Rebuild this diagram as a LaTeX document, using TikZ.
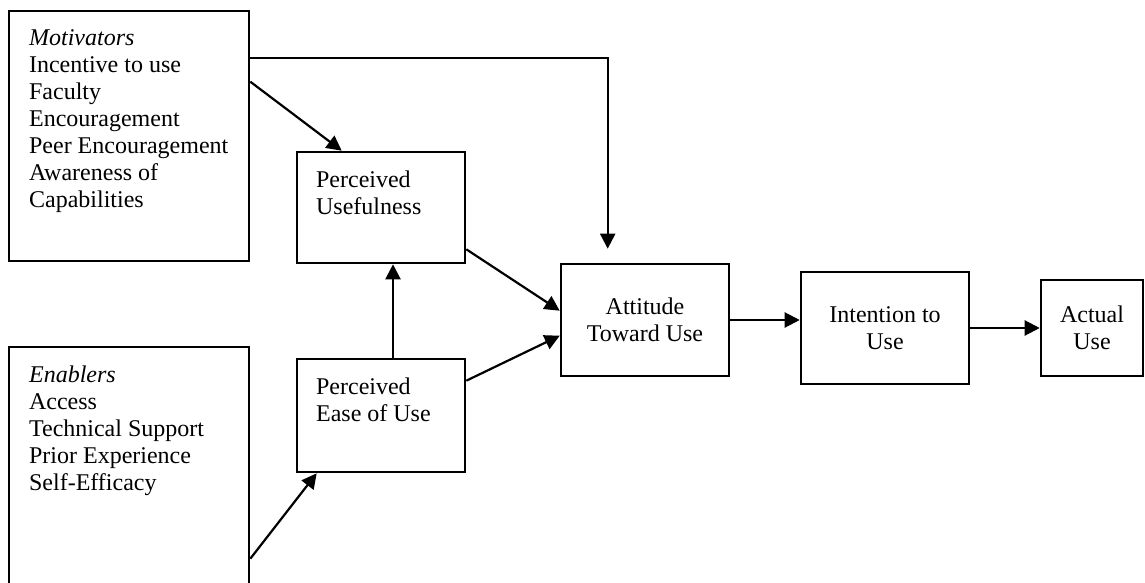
\documentclass[tikz,border=0pt]{standalone}
\usepackage{fontspec}
\setmainfont{Liberation Serif}
\usetikzlibrary{arrows.meta,calc}

\begin{document}
\begin{tikzpicture}[x=0.5pt,y=-0.5pt,
  every node/.style={font=\fontsize{12}{13.5}\selectfont},
  box/.style={draw,line width=1.3pt,inner sep=0pt,align=center},
  txt/.style={anchor=north west,align=left,inner sep=0pt},
  link/.style={line width=1.1pt,-{Triangle[length=7.5pt,width=7.5pt]}}]
\clip (0,0) rectangle (1145,583);
% boxes
\node[box,minimum width=120pt,minimum height=125pt] (mot) at (129,136) {};
\node[box,minimum width=120pt,minimum height=125pt] (ena) at (129,472) {};
\node[box,minimum width=84pt,minimum height=55.5pt] (pu) at (381,207.5) {};
\node[box,minimum width=84pt,minimum height=56.5pt] (pe) at (381,415.5) {};
\node[box,minimum width=84pt,minimum height=56pt] (att) at (645,320) {Attitude\\Toward Use};
\node[box,minimum width=84pt,minimum height=56pt] (int) at (885,328) {Intention to\\Use};
\node[box,minimum width=51pt,minimum height=48pt] (act) at (1092,328) {Actual\\Use};
% texts
\node[txt] (motlist) at ($(mot.north west)+(21,20)$) {\textit{Motivators}\\Incentive to use\\Faculty\\Encouragement\\Peer Encouragement\\Awareness of\\Capabilities};
\node[txt] (enalist) at ($(ena.north west)+(21,20)$) {\textit{Enablers}\\Access\\Technical Support\\Prior Experience\\Self-Efficacy};
\node[txt] (putext) at ($(pu.north west)+(20,20)$) {Perceived\\Usefulness};
\node[txt] (petext) at ($(pe.north west)+(20,20)$) {Perceived\\Ease of Use};
% links
\draw[link] ($(mot.north east)+(0,48)$) -| ($(att.north west)+(48,-14)$);
\draw[link] ($(mot.north east)+(0,72)$) -- ($(pu.north west)+(46,0)$);
\draw[link] ($(pu.south east)+(0,-15)$) -- ($(att.north west)+(0,48)$);
\draw[link] ($(pe.north east)+(0,23)$) -- ($(att.north west)+(0,73)$);
\draw[link] ($(pe.north)+(12,0)$) -- ($(pu.south)+(12,0)$);
\draw[link] ($(ena.north east)+(0,213)$) -- ($(pe.south west)+(21,0)$);
\draw[link] (att.east) -- (att.east -| int.west);
\draw[link] (int.east) -- (act.west);
\end{tikzpicture}
\end{document}
